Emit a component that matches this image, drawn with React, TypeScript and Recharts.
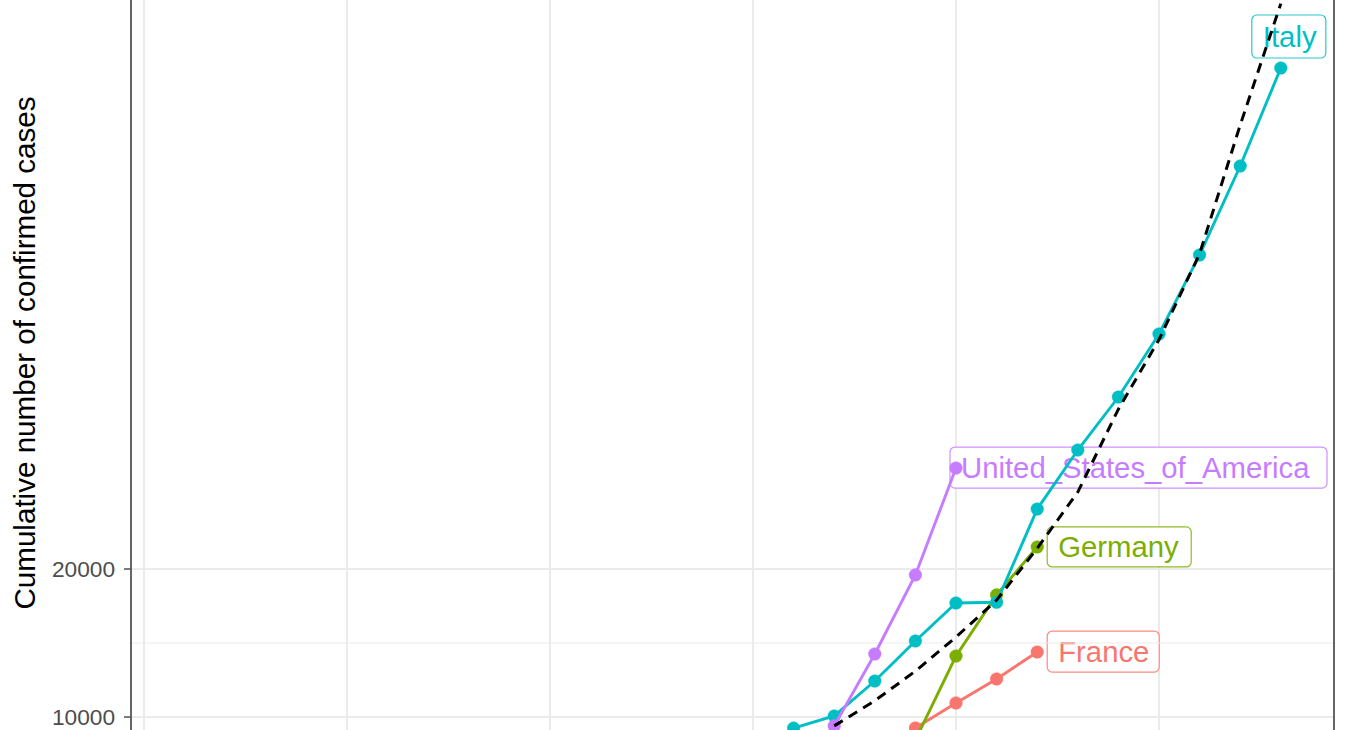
import { ComposedChart, Line, XAxis, YAxis, CartesianGrid, ReferenceLine, ReferenceDot } from "recharts";

// days since start, cumulative confirmed cases
const italyDays = [15, 16, 17, 18, 19, 20, 21, 22, 23, 24, 25, 26, 27, 28];
const italyCases = [7400, 9250, 10070, 12430, 15140, 17700, 17750, 24050, 28040, 31620, 35880, 41220, 47230, 53850];

const usaDays = [16, 17, 18, 19, 20];
const usaCases = [6400, 9400, 14260, 19600, 26820];

const germanyDays = [19, 20, 21, 22];
const germanyCases = [8450, 14120, 18250, 21490];

const franceDays = [18, 19, 20, 21, 22];
const franceCases = [7700, 9260, 10950, 12570, 14390];

// dashed reference curve
const refDays = [17, 18, 19, 20, 21, 22, 23, 24, 25, 26, 27, 28];
const refCases = [9400, 11100, 13100, 15400, 17900, 21400, 25200, 30800, 35500, 41300, 50000, 58200];

const yTicks = [10000, 20000];
const yMinor = [15000];
const xGrid = [0, 5, 10, 15, 20, 25];

const toRows = (days: number[], cases: number[]) => days.map((day, i) => ({ day, cases: cases[i] }));

const series = [
  { name: "France", rows: toRows(franceDays, franceCases), color: "#F8766D", dx: 10, dy: -21, w: 112, h: 41 },
  { name: "Germany", rows: toRows(germanyDays, germanyCases), color: "#7CAE00", dx: 10, dy: -20, w: 144, h: 40 },
  { name: "Italy", rows: toRows(italyDays, italyCases), color: "#00BFC4", dx: -29, dy: -53, w: 74, h: 43 },
  { name: "United_States_of_America", rows: toRows(usaDays, usaCases), color: "#C77CFF", dx: -6, dy: -21, w: 377, h: 41 },
];
const refRows = toRows(refDays, refCases);

const X_MIN = -0.32;
const X_MAX = 29.31;
const FONT = "'Liberation Sans', Arial, Helvetica, sans-serif";

function LabelBox(props: any) {
  const { cx, cy, s } = props;
  if (cx == null || cy == null) return null;
  const x0 = cx + s.dx;
  const y0 = cy + s.dy;
  return (
    <g>
      <rect x={x0} y={y0} width={s.w} height={s.h} rx={5} ry={5} fill="#FFFFFF" stroke={s.color} strokeOpacity={0.85} strokeWidth={1.2} />
      <text x={x0 + 11} y={y0 + s.h / 2 + 10.5} fill={s.color} fontSize={29.3} fontFamily={FONT}>
        {s.name}
      </text>
    </g>
  );
}

export default function App() {
  return (
    <div style={{ width: 1350, height: 730, position: "relative", background: "#FFFFFF" }}>
      <style>{"body{margin:0}"}</style>
      <ComposedChart width={1350} height={730} margin={{ top: 0, right: 16, bottom: 0, left: 0 }}>
        <CartesianGrid
          stroke="#EBEBEB"
          strokeWidth={2}
          horizontalValues={yTicks}
          verticalValues={xGrid}
        />
        {yMinor.map((v) => (
          <ReferenceLine key={v} y={v} stroke="#EBEBEB" strokeWidth={1.2} />
        ))}
        <XAxis type="number" dataKey="day" domain={[X_MIN, X_MAX]} allowDataOverflow hide />
        <YAxis
          type="number"
          domain={[9122, 58446]}
          allowDataOverflow
          ticks={yTicks}
          interval={0}
          width={131}
          axisLine={false}
          tickLine={{ stroke: "#444444", strokeWidth: 1.4 }}
          tickSize={7}
          tickMargin={9}
          tick={{ fill: "#4D4D4D", fontSize: 22.7, fontFamily: FONT }}
          label={{
            value: "Cumulative number of confirmed cases",
            angle: -90,
            position: "insideLeft",
            content: () => (
              <text
                x={35}
                y={353}
                transform="rotate(-90, 35, 353)"
                textAnchor="middle"
                fill="#000000"
                fontSize={29.6}
                fontFamily={FONT}
              >
                Cumulative number of confirmed cases
              </text>
            ),
          }}
        />
        {series.map((s) => {
          const last = s.rows[s.rows.length - 1];
          return (
            <ReferenceDot
              key={"lab-" + s.name}
              x={last.day}
              y={last.cases}
              ifOverflow="visible"
              zIndex={100}
              shape={(p: any) => <LabelBox {...p} s={s} />}
            />
          );
        })}
        {series.map((s) => (
          <Line
            key={s.name}
            data={s.rows}
            dataKey="cases"
            type="linear"
            stroke={s.color}
            strokeWidth={2.9}
            dot={{ r: 6.3, fill: s.color, stroke: s.color, strokeWidth: 0.5 }}
            activeDot={false}
            isAnimationActive={false}
            zIndex={600}
          />
        ))}
        <Line
          data={refRows}
          dataKey="cases"
          type="linear"
          stroke="#000000"
          strokeWidth={3}
          strokeDasharray="10 7"
          dot={false}
          activeDot={false}
          isAnimationActive={false}
          zIndex={700}
        />
        <ReferenceLine x={X_MIN} stroke="#555555" strokeWidth={1.8} zIndex={800} />
        <ReferenceLine x={X_MAX} stroke="#555555" strokeWidth={1.8} zIndex={800} />
      </ComposedChart>
    </div>
  );
}
